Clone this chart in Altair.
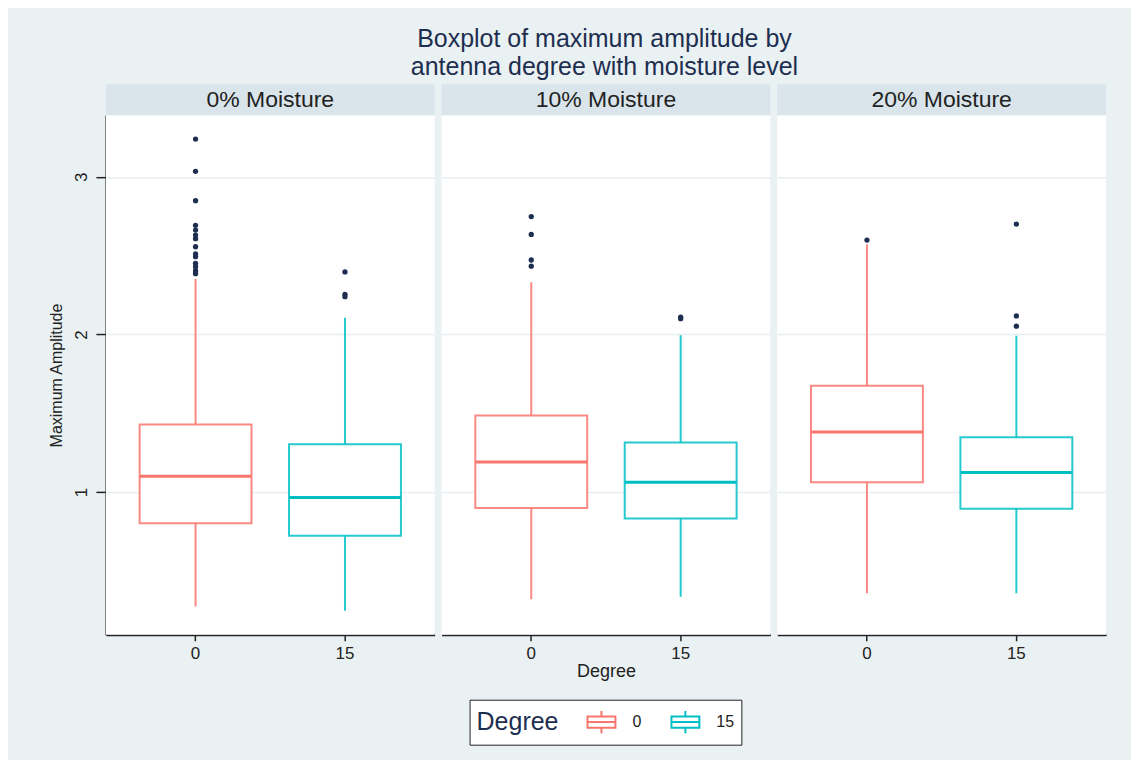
import altair as alt
import pandas as pd

# ---- data ----
moisture = ["0% Moisture", "10% Moisture", "20% Moisture"]
degrees = ["0", "15"]

box_moisture = ["0% Moisture", "0% Moisture", "10% Moisture", "10% Moisture", "20% Moisture", "20% Moisture"]
box_degree = ["0", "15", "0", "15", "0", "15"]
lower = [0.275, 0.247, 0.320, 0.336, 0.359, 0.359]
q1 = [0.803, 0.723, 0.899, 0.833, 1.063, 0.894]
median = [1.101, 0.966, 1.190, 1.063, 1.381, 1.124]
q3 = [1.429, 1.304, 1.485, 1.314, 1.675, 1.348]
upper = [2.351, 2.106, 2.330, 1.995, 2.571, 1.991]

out_0_0 = [3.239, 3.034, 2.848, 2.692, 2.662, 2.630, 2.607, 2.556, 2.510, 2.493, 2.451, 2.429, 2.404, 2.385]
out_0_15 = [2.396, 2.254, 2.239]
out_10_0 = [2.747, 2.634, 2.472, 2.433]
out_10_15 = [2.110, 2.100]
out_20_0 = [2.598]
out_20_15 = [2.700, 2.117, 2.052]

# ---- one long table (facet needs a single source) ----
rows = []
for i in range(len(box_degree)):
    rows.append({"moisture": box_moisture[i], "degree": box_degree[i], "kind": "box",
                 "lower": lower[i], "q1": q1[i], "median": median[i], "q3": q3[i],
                 "upper": upper[i], "value": None})
for m, d, vals in [
    ("0% Moisture", "0", out_0_0), ("0% Moisture", "15", out_0_15),
    ("10% Moisture", "0", out_10_0), ("10% Moisture", "15", out_10_15),
    ("20% Moisture", "0", out_20_0), ("20% Moisture", "15", out_20_15),
]:
    for v in vals:
        rows.append({"moisture": m, "degree": d, "kind": "out", "lower": None, "q1": None,
                     "median": None, "q3": None, "upper": None, "value": v})
df = pd.DataFrame(rows)

BG = "#EAF1F3"
HEAD = "#D9E5EB"
NAVY = "#1E2E50"
colors = ["#F8766D", "#00BFC4"]
FONT = "Liberation Sans"
PW, PH, HH = 329, 520, 31

cscale = alt.Scale(domain=degrees, range=colors)
xscale = alt.Scale(domain=degrees, paddingInner=0, paddingOuter=0.1)
yscale = alt.Scale(domain=[0.095, 3.39], nice=False, zero=False)

box_symbol = "M-1,-0.4H1V0.4H-1Z M-1,0H1 M0,-0.4V-0.8 M0,0.4V0.8"

legend = alt.Legend(
    title="Degree", orient="none", legendX=364, legendY=585,
    direction="horizontal", titleOrient="left", titleFontSize=25,
    titleFont=FONT, titleColor=NAVY, titleFontWeight="normal",
    titleBaseline="middle", titlePadding=28,
    labelFont=FONT, labelFontSize=16, labelColor="#222",
    symbolType=box_symbol, symbolSize=780, symbolStrokeWidth=2,
    symbolFillColor="white", columnPadding=26, labelOffset=16,
    fillColor="white", strokeColor="#222", padding=7, cornerRadius=0,
)
stroke = alt.Stroke("degree:N", scale=cscale, sort=degrees, legend=legend)

yaxis = alt.Axis(title="Maximum Amplitude", values=[1, 2, 3], labelAngle=270,
                 labelAlign="center", labelBaseline="bottom", tickSize=10,
                 labelPadding=5, titlePadding=8, grid=True, domain=True)
xaxis = alt.Axis(title=None, labelAngle=0, tickSize=6, labelPadding=5)
x = alt.X("degree:N", scale=xscale, axis=xaxis, sort=degrees)

is_box = alt.datum.kind == "box"

band = alt.Chart().mark_rect(color=HEAD).transform_filter(
    is_box & (alt.datum.degree == "0")).encode(
    x=alt.value(0), x2=alt.value("width"), y=alt.value(-HH), y2=alt.value(0))
head_txt = alt.Chart().mark_text(font=FONT, fontSize=23, color="#222").transform_filter(
    is_box & (alt.datum.degree == "0")).encode(
    text="moisture:N", x=alt.value(PW / 2), y=alt.value(-HH / 2))

whisk = alt.Chart().mark_rule(strokeWidth=2, strokeOpacity=0.85).transform_filter(is_box).encode(
    x=x,
    y=alt.Y("lower:Q", scale=yscale, axis=yaxis),
    y2="upper:Q",
    stroke=stroke,
)
box = alt.Chart().mark_bar(size=112, fill="white", strokeWidth=2, strokeOpacity=0.85).transform_filter(
    is_box).encode(
    x=x,
    y=alt.Y("q1:Q", scale=yscale, axis=yaxis),
    y2="q3:Q",
    stroke=stroke,
)
med = alt.Chart().mark_bar(size=112, fill="white", fillOpacity=0, strokeWidth=3).transform_filter(
    is_box).encode(
    x=x,
    y=alt.Y("median:Q", scale=yscale, axis=yaxis),
    y2="median:Q",
    stroke=stroke,
)
pts = alt.Chart().mark_circle(size=28, color=NAVY, opacity=1).transform_filter(
    alt.datum.kind == "out").encode(
    x=x,
    y=alt.Y("value:Q", scale=yscale, axis=yaxis),
)

cell = alt.layer(band, head_txt, whisk, box, med, pts, data=df).properties(
    width=PW, height=PH)

chart = cell.facet(
    column=alt.Column("moisture:N", sort=moisture, header=alt.Header(
        labels=False, title="Degree", titleOrient="bottom", titleFont=FONT,
        titleFontSize=18, titleFontWeight="normal", titleColor="#222", titlePadding=-9)),
    spacing=7,
).properties(
    title=alt.TitleParams(
        text=["Boxplot of maximum amplitude by", "antenna degree with moisture level"],
        font=FONT, fontSize=25, fontWeight="normal", color=NAVY,
        anchor="middle", dx=27, offset=4, lineHeight=28),
    background=BG,
    padding={"left": 41, "top": 19, "right": 25, "bottom": 14},
).configure_axis(
    labelFont=FONT, titleFont=FONT, labelFontSize=17, titleFontSize=16,
    labelColor="#222", titleColor="#222", titleFontWeight="normal",
    domainColor="#222", domainWidth=2, tickColor="#222", tickWidth=1.5,
    gridColor="#E6EEF1", gridWidth=1.5,
).configure_view(stroke=None, fill="white")

chart.save("out.html", embed_options={"renderer": "svg", "actions": False})
